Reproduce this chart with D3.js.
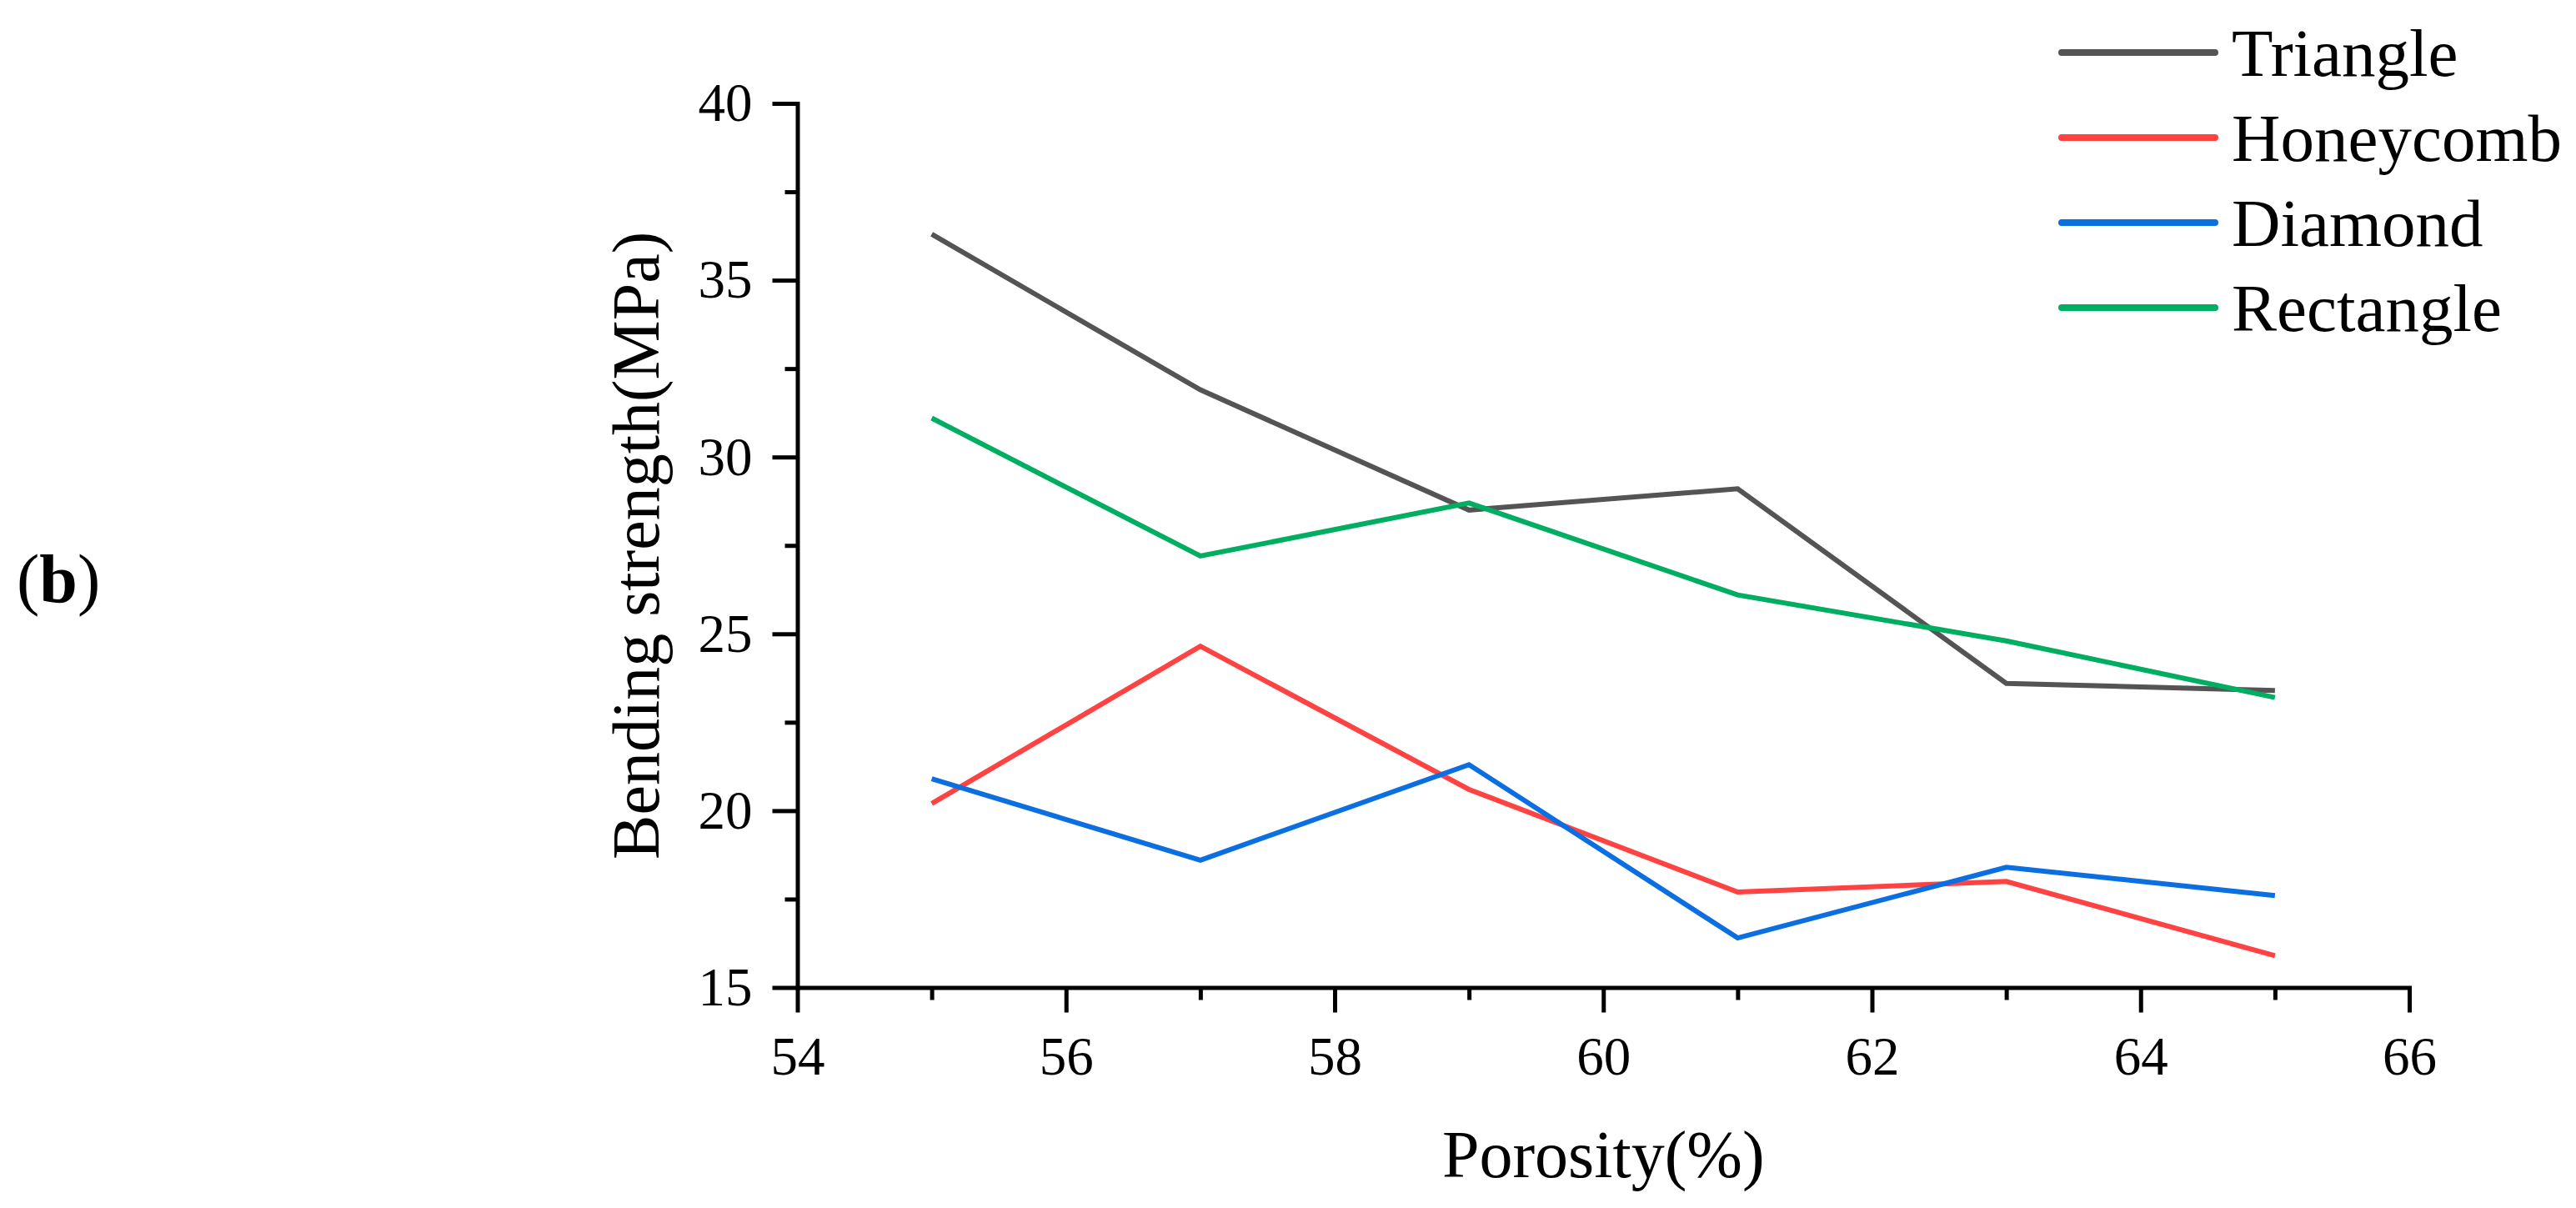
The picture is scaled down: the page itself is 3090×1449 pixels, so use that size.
<!DOCTYPE html>
<html>
<head>
<meta charset="utf-8">
<script src="https://cdn.jsdelivr.net/npm/d3@7"></script>
<style>
  body { margin: 0; background: #fff; }
  text { font-family: "Liberation Serif", "Times New Roman", serif; fill: #000; }
</style>
</head>
<body>
<svg width="3090" height="1449"></svg>
<script>
// Porosity values (x) and bending strength per structure (y)
const porosity = [55, 57, 59, 61, 63, 65];
const triangle = [36.3, 31.9, 28.5, 29.1, 23.6, 23.4];
const honeycomb = [20.2, 24.65, 20.6, 17.7, 18.0, 15.9];
const diamond = [20.9, 18.6, 21.3, 16.4, 18.4, 17.6];
const rectangle = [31.1, 27.2, 28.7, 26.1, 24.8, 23.2];

const seriesNames = ["Triangle", "Honeycomb", "Diamond", "Rectangle"];
const seriesColors = ["#545454", "#ff4242", "#0b6fe2", "#00ae62"];
const xTicks = [54, 56, 58, 60, 62, 64, 66];
const yTicks = [15, 20, 25, 30, 35, 40];

const serif = '"Liberation Serif", "Times New Roman", serif';
const svg = d3.select("svg");

// plot frame
const plotLeft = 956.5, plotRight = 2890, plotTop = 124, plotBottom = 1184.5;

const x = d3.scaleLinear().domain([54, 66]).range([plotLeft, plotRight]);
const y = d3.scaleLinear().domain([15, 40]).range([plotBottom, plotTop]);

// minor ticks first (shorter), then the major axes on top
svg.append("g")
    .attr("transform", `translate(0,${plotBottom})`)
    .call(d3.axisBottom(x).tickValues(d3.range(55, 66, 2)).tickSize(15).tickFormat(""))
    .call(g => g.select(".domain").remove())
    .call(g => g.selectAll("line").attr("stroke", "#000").attr("stroke-width", 5));

svg.append("g")
    .attr("transform", `translate(${plotLeft},0)`)
    .call(d3.axisLeft(y).tickValues(d3.range(17.5, 40, 5)).tickSize(15).tickFormat(""))
    .call(g => g.select(".domain").remove())
    .call(g => g.selectAll("line").attr("stroke", "#000").attr("stroke-width", 5));

const xAxis = svg.append("g")
    .attr("transform", `translate(0,${plotBottom})`)
    .call(d3.axisBottom(x).tickValues(xTicks).tickSize(30).tickSizeOuter(0).tickPadding(28));

const yAxis = svg.append("g")
    .attr("transform", `translate(${plotLeft},0)`)
    .call(d3.axisLeft(y).tickValues(yTicks).tickSize(30).tickSizeOuter(0).tickPadding(24));

[xAxis, yAxis].forEach(a => {
    a.attr("font-family", serif).attr("font-size", 65);
    a.select(".domain").attr("stroke", "#000").attr("stroke-width", 5).attr("stroke-linecap", "square");
    a.selectAll(".tick line").attr("stroke", "#000").attr("stroke-width", 5);
    a.selectAll(".tick text").attr("fill", "#000");
});
xAxis.selectAll(".tick text").attr("dy", "0.71em");

// data lines
const data = [triangle, honeycomb, diamond, rectangle];
const line = d3.line()
    .x((d, i) => x(porosity[i]))
    .y(d => y(d));

svg.append("g").selectAll("path")
    .data(data)
    .join("path")
    .attr("d", d => line(d))
    .attr("fill", "none")
    .attr("stroke", (d, i) => seriesColors[i])
    .attr("stroke-width", 6)
    .attr("stroke-linejoin", "miter");

// axis titles
svg.append("text")
    .attr("x", (plotLeft + plotRight) / 2)
    .attr("y", 1412)
    .attr("text-anchor", "middle")
    .style("font-size", "80px")
    .text("Porosity(%)");

svg.append("text")
    .attr("transform", `translate(790,${(plotTop + plotBottom) / 2}) rotate(-90)`)
    .attr("text-anchor", "middle")
    .style("font-size", "80px")
    .text("Bending strength(MPa)");

// panel label
const panel = svg.append("text")
    .attr("x", 20)
    .attr("y", 722)
    .style("font-size", "82px");
panel.append("tspan").text("(");
panel.append("tspan").style("font-weight", "bold").text("b");
panel.append("tspan").text(")");

// legend
const legend = svg.append("g").selectAll("g")
    .data(seriesNames)
    .join("g")
    .attr("transform", (d, i) => `translate(2473,${63 + i * 102})`);

legend.append("line")
    .attr("x1", 0).attr("x2", 184)
    .attr("stroke", (d, i) => seriesColors[i])
    .attr("stroke-width", 8)
    .attr("stroke-linecap", "round");

legend.append("text")
    .attr("x", 204)
    .attr("dy", "0.35em")
    .style("font-size", "81px")
    .text(d => d);
</script>
</body>
</html>
